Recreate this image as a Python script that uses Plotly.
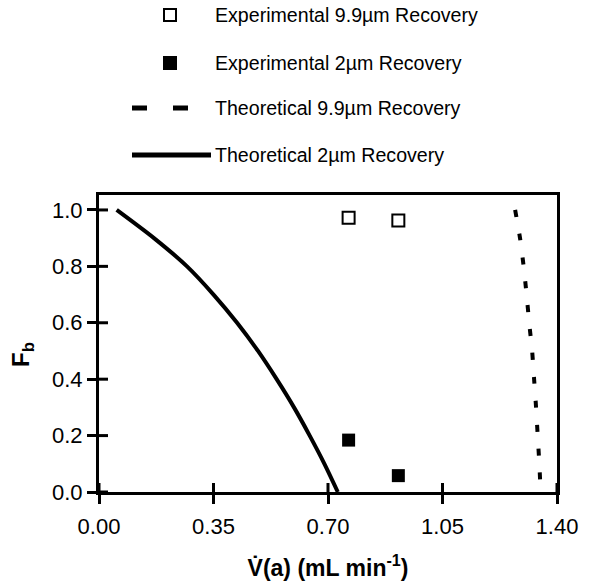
import plotly.graph_objects as go

# Measured recovery fractions
exp_flow = [0.763, 0.915]
exp_99_fb = [0.972, 0.963]
exp_2_fb = [0.184, 0.058]

# Model curves (F_b vs flow rate)
theo_fb = [1.0, 0.9, 0.8, 0.7, 0.6, 0.5, 0.4, 0.3, 0.2, 0.1, 0.0]
theo_99_flow = [1.272, 1.287, 1.298, 1.307, 1.315, 1.324, 1.330, 1.336, 1.341, 1.346, 1.350]
theo_2_flow = [0.054, 0.168, 0.269, 0.350, 0.422, 0.486, 0.543, 0.596, 0.644, 0.689, 0.730]

x_ticks = [0.00, 0.35, 0.70, 1.05, 1.40]
x_ticklabels = ["0.00", "0.35", "0.70", "1.05", "1.40"]
y_ticks = [0.0, 0.2, 0.4, 0.6, 0.8, 1.0]
y_ticklabels = ["0.0", "0.2", "0.4", "0.6", "0.8", "1.0"]

legend_labels = [
    "Experimental 9.9µm Recovery",
    "Experimental 2µm Recovery",
    "Theoretical 9.9µm Recovery",
    "Theoretical 2µm Recovery",
]

W, H = 591, 584
L, R, T, B = 99, 34, 195, 92
PLOT_W, PLOT_H = W - L - R, H - T - B
FONT = "Arial, Liberation Sans, sans-serif"
X_RANGE = [0, 1.4]
Y_RANGE = [0, 1.053]
TICK_LEN = 9
TICK_W = 3

# tick length expressed in data units of each axis
tick_dx = TICK_LEN * (X_RANGE[1] - X_RANGE[0]) / PLOT_W
tick_dy = TICK_LEN * (Y_RANGE[1] - Y_RANGE[0]) / PLOT_H


def px_x(x):
    return (x - L) / PLOT_W


def px_y(y):
    return (H - B - y) / PLOT_H


fig = go.Figure()
fig.add_trace(go.Scatter(
    x=theo_2_flow, y=theo_fb, mode="lines",
    line=dict(color="black", width=4, shape="spline", smoothing=0.8), showlegend=False,
))
fig.add_trace(go.Scatter(
    x=theo_99_flow, y=theo_fb, mode="lines",
    line=dict(color="black", width=4, dash="7px,17px", shape="spline", smoothing=0.8),
    showlegend=False,
))
fig.add_trace(go.Scatter(
    x=exp_flow, y=exp_99_fb, mode="markers",
    marker=dict(symbol="square-open", size=12, color="black", line=dict(width=2)),
    showlegend=False,
))
fig.add_trace(go.Scatter(
    x=exp_flow, y=exp_2_fb, mode="markers",
    marker=dict(symbol="square", size=13, color="black"),
    showlegend=False,
))

shapes = []
annotations = []

# Inward half of the cross-style ticks
for xv in x_ticks:
    shapes.append(dict(type="line", xref="x", yref="y", layer="above",
                       x0=xv, x1=xv, y0=Y_RANGE[0], y1=Y_RANGE[0] + tick_dy,
                       line=dict(color="black", width=TICK_W)))
for yv in y_ticks:
    shapes.append(dict(type="line", xref="x", yref="y", layer="above",
                       y0=yv, y1=yv, x0=X_RANGE[0], x1=X_RANGE[0] + tick_dx,
                       line=dict(color="black", width=TICK_W)))

# Legend block above the plot
row_y = [15, 63, 108, 155]
sym_x = 170
for i, label in enumerate(legend_labels):
    annotations.append(dict(
        xref="paper", yref="paper", x=px_x(213), y=px_y(row_y[i]),
        xanchor="left", yanchor="middle", text=label, showarrow=False,
        font=dict(family=FONT, size=19.6, color="black"),
    ))
shapes.append(dict(type="rect", xref="paper", yref="paper",
                   x0=px_x(sym_x - 6), x1=px_x(sym_x + 6),
                   y0=px_y(row_y[0] + 6), y1=px_y(row_y[0] - 6),
                   line=dict(color="black", width=2), fillcolor="white"))
shapes.append(dict(type="rect", xref="paper", yref="paper",
                   x0=px_x(sym_x - 7), x1=px_x(sym_x + 7),
                   y0=px_y(row_y[1] + 7), y1=px_y(row_y[1] - 7),
                   line=dict(color="black", width=0), fillcolor="black"))
shapes.append(dict(type="line", xref="paper", yref="paper",
                   x0=px_x(132), x1=px_x(188), y0=px_y(row_y[2]), y1=px_y(row_y[2]),
                   line=dict(color="black", width=5, dash="15px,26px")))
shapes.append(dict(type="line", xref="paper", yref="paper",
                   x0=px_x(132), x1=px_x(211), y0=px_y(row_y[3]), y1=px_y(row_y[3]),
                   line=dict(color="black", width=5)))

# Y-axis title, centred on the labelled part of the axis
annotations.append(dict(
    xref="paper", yref="paper", x=px_x(22), y=px_y(355),
    xanchor="center", yanchor="middle", textangle=-90, showarrow=False,
    text="<b>F<sub>b</sub></b>", font=dict(family=FONT, size=24, color="black"),
))

axis_common = dict(
    showgrid=False, zeroline=False, showline=True, linecolor="black", linewidth=3,
    mirror=True, ticks="outside", ticklen=TICK_LEN, tickwidth=TICK_W, tickcolor="black",
    tickfont=dict(family=FONT, size=22, color="black"), automargin=False,
)

fig.update_layout(
    width=W, height=H,
    margin=dict(l=L, r=R, t=T, b=B, pad=0),
    plot_bgcolor="white", paper_bgcolor="white",
    shapes=shapes, annotations=annotations,
    xaxis=dict(
        **axis_common, range=X_RANGE, tickmode="array",
        tickvals=x_ticks, ticktext=x_ticklabels, ticklabelstandoff=4,
        title=dict(text="<b>V̇(a) (mL min<sup>-1</sup>)</b>",
                   font=dict(family=FONT, size=23, color="black"), standoff=22),
    ),
    yaxis=dict(
        **axis_common, range=Y_RANGE, tickmode="array",
        tickvals=y_ticks, ticktext=y_ticklabels,
    ),
)

fig.write_html("out.html")
